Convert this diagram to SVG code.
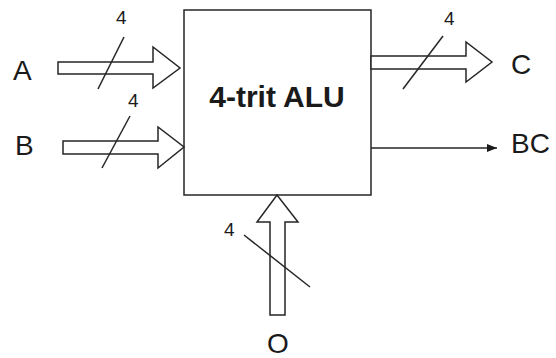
<svg xmlns="http://www.w3.org/2000/svg" width="556" height="358" viewBox="0 0 556 358">
<defs>
<style>
.s{fill:none;stroke:#262626;stroke-width:1.5}
.f{fill:#fff;stroke:#262626;stroke-width:1.5;stroke-linejoin:miter}
.t{font-family:"Liberation Sans",Arial,sans-serif;fill:#1a1a1a}
.lbl{font-size:28px}
.n{font-size:19px}
</style>
<marker id="ah" viewBox="0 0 10 8" refX="10" refY="4" markerWidth="10" markerHeight="8" markerUnits="userSpaceOnUse" orient="auto">
<path d="M0,0 L10,4 L0,8 Z" fill="#1a1a1a"/>
</marker>
</defs>
<rect width="556" height="358" fill="#fff"/>
<g id="alu">
<rect class="s" x="184" y="10" width="187" height="185"/>
<text class="t" x="277" y="107" font-size="30" font-weight="bold" text-anchor="middle">4-trit ALU</text>
</g>
<g id="connectors">
<polygon class="f" points="58,62 153,62 153,47 180,68 153,88 153,74 58,74"/>
<polygon class="f" points="63,141 158,141 158,127 184,147 158,168 158,154 63,154"/>
<polygon class="f" points="371,56 466,56 466,42 492,62 466,82 466,69 371,69"/>
<polygon class="f" points="270,315 270,222 257,222 277,195 298,222 285,222 285,315"/>
<line class="s" x1="371" y1="148" x2="497" y2="148" marker-end="url(#ah)"/>
<line class="s" x1="98" y1="89" x2="124" y2="37"/>
<line class="s" x1="102" y1="168" x2="130" y2="116"/>
<line class="s" x1="403" y1="89" x2="443" y2="36"/>
<line class="s" x1="244" y1="235" x2="310" y2="287"/>
<text class="t n" x="116" y="24">4</text>
<text class="t n" x="128" y="107">4</text>
<text class="t n" x="444" y="25">4</text>
<text class="t n" x="224" y="236">4</text>
</g>
<g id="A"><text class="t lbl" x="13" y="80">A</text></g>
<g id="B"><text class="t lbl" x="15" y="155">B</text></g>
<g id="C"><text class="t lbl" x="511" y="74">C</text></g>
<g id="BC"><text class="t lbl" x="511" y="153">BC</text></g>
<g id="O"><text class="t lbl" x="278" y="353" text-anchor="middle">O</text></g>
</svg>
